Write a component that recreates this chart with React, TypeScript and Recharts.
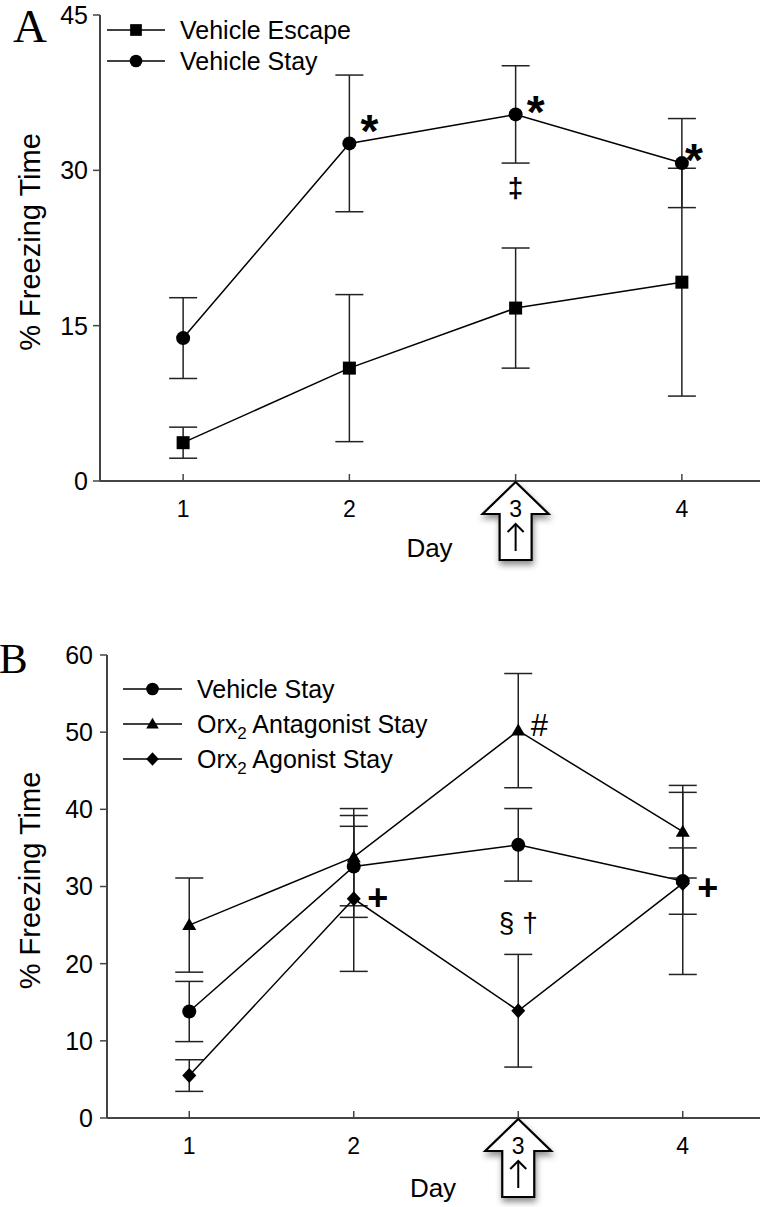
import React from 'react';
import { LineChart, Line, XAxis, YAxis, ErrorBar, Legend, LabelList } from 'recharts';

const FONT = '"Liberation Sans", Arial, sans-serif';
const SERIF = '"Liberation Serif", "Times New Roman", serif';

const days = [1, 2, 3, 4];

// Panel A
const escapeMeanA = [3.7, 10.9, 16.7, 19.2];
const escapeSemA = [1.5, 7.1, 5.8, 11.0];
const escapeNotesA = ['', '', '‡', ''];
const stayMean = [13.8, 32.6, 35.4, 30.7];
const staySem = [3.9, 6.6, 4.7, 4.3];
const stayNotesA = ['', '*', '*', '*'];
const yTicksA = [0, 15, 30, 45];

// Panel B
const antagMeanB = [25.0, 33.8, 50.2, 37.1];
const antagSemB = [6.1, 6.3, 7.4, 6.0];
const antagNotesB = ['', '', '#', ''];
const agonMeanB = [5.5, 28.4, 13.9, 30.4];
const agonSemB = [2.05, 9.4, 7.3, 11.8];
const agonNotesB = ['', '+', '§ †', '+'];
const yTicksB = [0, 10, 20, 30, 40, 50, 60];

const seriesA = [
  { key: 'escape', name: 'Vehicle Escape', shape: 'square' },
  { key: 'stay', name: 'Vehicle Stay', shape: 'circle' },
];
const seriesB = [
  { key: 'stay', name: 'Vehicle Stay', shape: 'circle' },
  { key: 'antag', name: 'Orx₂ Antagonist Stay', shape: 'triangle' },
  { key: 'agon', name: 'Orx₂ Agonist Stay', shape: 'diamond' },
];

// where each annotation sits relative to its point (dx to centre, dy to baseline)
const stayNoteOffsetA = [[0, 0], [20, 4], [20, 14], [12, 13]];
const escapeNoteOffsetA = [[0, 0], [0, 0], [0, -111], [0, 0]];
const antagNoteOffsetB = [[0, 0], [0, 0], [21, 5], [0, 0]];
const agonNoteOffsetB = [[0, 0], [24, 11], [0, -79], [25, 17]];

const NOTE_STYLE: Record<string, { fontSize: number; fontWeight: number }> = {
  '*': { fontSize: 46, fontWeight: 700 },
  '‡': { fontSize: 28, fontWeight: 700 },
  '#': { fontSize: 31, fontWeight: 400 },
  '+': { fontSize: 36, fontWeight: 700 },
  '§ †': { fontSize: 28, fontWeight: 400 },
};

const rowsA = days.map((day, i) => ({
  day,
  escape: escapeMeanA[i],
  escapeErr: escapeSemA[i],
  escapeNote: escapeNotesA[i],
  stay: stayMean[i],
  stayErr: staySem[i],
  stayNote: stayNotesA[i],
}));

const rowsB = days.map((day, i) => ({
  day,
  stay: stayMean[i],
  stayErr: staySem[i],
  antag: antagMeanB[i],
  antagErr: antagSemB[i],
  antagNote: antagNotesB[i],
  agon: agonMeanB[i],
  agonErr: agonSemB[i],
  agonNote: agonNotesB[i],
}));

function Marker({ shape, cx, cy, s = 1 }: { shape: string; cx: number; cy: number; s?: number }) {
  if (cx == null || cy == null) return null;
  if (shape === 'square') return <rect x={cx - 6.5 * s} y={cy - 6.5 * s} width={13 * s} height={13 * s} fill="#000" />;
  if (shape === 'circle') return <circle cx={cx} cy={cy} r={7 * s} fill="#000" />;
  if (shape === 'triangle')
    return <polygon points={`${cx},${cy - 7 * s} ${cx - 7 * s},${cy + 5 * s} ${cx + 7 * s},${cy + 5 * s}`} fill="#000" />;
  return <polygon points={`${cx},${cy - 7.5 * s} ${cx + 7 * s},${cy} ${cx},${cy + 7.5 * s} ${cx - 7 * s},${cy}`} fill="#000" />;
}

const dotOf = (shape: string) => (p: any) => <Marker key={`${shape}-${p.index}`} shape={shape} cx={p.cx} cy={p.cy} />;

const noteOf = (offsets: number[][]) => (props: any) => {
  const { value, index } = props;
  if (!value) return null;
  const x = props.x ?? props.viewBox?.x;
  const y = props.y ?? props.viewBox?.y;
  const [dx, dy] = offsets[index] || [0, 0];
  const st = NOTE_STYLE[value] || { fontSize: 24, fontWeight: 400 };
  return (
    <text key={`note-${index}`} x={x + dx} y={y + dy} textAnchor="middle" fontFamily={FONT} fontSize={st.fontSize} fontWeight={st.fontWeight} fill="#000">
      {value}
    </text>
  );
};

function LabelText({ name }: { name: string }) {
  const parts = name.split('₂');
  if (parts.length === 1) return <>{name}</>;
  return (
    <>
      {parts[0]}
      <tspan fontSize={17} dy={6}>2</tspan>
      <tspan dy={-6}>{parts[1]}</tspan>
    </>
  );
}

const legendOf = (series: typeof seriesA, lx: number[], rows: number[], textX: number) => () => (
  <svg width={450} height={rows[rows.length - 1] + 20} style={{ display: 'block', overflow: 'visible' }}>
    {series.map((s, i) => (
      <g key={s.key}>
        <line x1={lx[0]} x2={lx[1]} y1={rows[i]} y2={rows[i]} stroke="#000" strokeWidth={1.5} />
        <Marker shape={s.shape} cx={(lx[0] + lx[1]) / 2} cy={rows[i]} s={0.9} />
        <text x={textX} y={rows[i] + 9} fontFamily={FONT} fontSize={25} fill="#000">
          <LabelText name={s.name} />
        </text>
      </g>
    ))}
  </svg>
);

const dayTick = (shadowId: string) => (props: any) => {
  const { x, y, payload } = props;
  const v = payload?.value;
  return (
    <g key={`t-${v}`}>
      <line x1={x} x2={x} y1={y} y2={y - 7} stroke="#444" strokeWidth={1.5} />
      {v === 3 && (
        <g>
          <defs>
            <filter id={shadowId} x="-40%" y="-30%" width="180%" height="170%">
              <feDropShadow dx={1} dy={4} stdDeviation={3} floodColor="#000" floodOpacity={0.45} />
            </filter>
          </defs>
          <polygon
            points={`${x},${y + 1} ${x + 33},${y + 33} ${x + 16},${y + 33} ${x + 16},${y + 79} ${x - 16},${y + 79} ${x - 16},${y + 33} ${x - 33},${y + 33}`}
            fill="#fff"
            stroke="#000"
            strokeWidth={2.2}
            filter={`url(#${shadowId})`}
          />
          <line x1={x} x2={x} y1={y + 70} y2={y + 43} stroke="#000" strokeWidth={2} />
          <polyline points={`${x - 8},${y + 51} ${x},${y + 43} ${x + 8},${y + 51}`} fill="none" stroke="#000" strokeWidth={2} />
        </g>
      )}
      <text x={x} y={y + 36} textAnchor="middle" fontFamily={FONT} fontSize={23} fill="#000">
        {v}
      </text>
    </g>
  );
};

const dayLabel = (dy: number) => (props: any) => {
  const vb = props.viewBox || {};
  return (
    <text x={vb.x + vb.width / 2 - 3} y={vb.y + dy} textAnchor="middle" fontFamily={FONT} fontSize={26} fill="#000">
      Day
    </text>
  );
};

const yLabel = (props: any) => {
  const vb = props.viewBox || {};
  const tx = 39.5;
  const ty = vb.y + vb.height / 2 - 6;
  return (
    <text x={tx} y={ty} transform={`rotate(-90 ${tx} ${ty})`} textAnchor="middle" fontFamily={FONT} fontSize={29} fill="#000">
      % Freezing Time
    </text>
  );
};

const axisLine = { stroke: '#444', strokeWidth: 2 };
const lineProps = { stroke: '#000', strokeWidth: 1.5, isAnimationActive: false, activeDot: false as const };
const errProps = { width: 14, stroke: '#222', strokeWidth: 1.5, direction: 'y' as const, isAnimationActive: false };

export default function App() {
  return (
    <div style={{ position: 'relative', width: 760, height: 1207, overflow: 'hidden', background: '#fff' }}>
      <style>{'body{margin:0}'}</style>

      <div style={{ position: 'absolute', left: 0, top: 0 }}>
        <LineChart width={770} height={600} data={rowsA} margin={{ top: 15, right: 5, bottom: 19, left: 0 }}>
          <XAxis
            dataKey="day"
            type="number"
            domain={[0.5, 4.5]}
            ticks={days}
            interval={0}
            allowDataOverflow
            height={100}
            tickSize={0}
            tickMargin={0}
            tickLine={false}
            axisLine={axisLine}
            tick={dayTick('shadowA')}
            label={{ content: dayLabel(76) }}
          />
          <YAxis
            type="number"
            domain={[0, 45]}
            ticks={yTicksA}
            interval={0}
            allowDataOverflow
            width={100}
            tickSize={7}
            tickMargin={5}
            axisLine={axisLine}
            tickLine={{ stroke: '#444', strokeWidth: 1.5 }}
            tick={{ fill: '#000', fontSize: 25, fontFamily: FONT }}
            label={{ content: yLabel }}
          />
          <Legend
            layout="vertical"
            align="center"
            verticalAlign="middle"
            wrapperStyle={{ left: 0, top: 0, width: 450, height: 80 }}
            content={legendOf(seriesA, [107, 165], [30, 61], 180)}
          />
          <Line dataKey="escape" name="Vehicle Escape" {...lineProps} dot={dotOf('square')}>
            <ErrorBar dataKey="escapeErr" {...errProps} />
            <LabelList dataKey="escapeNote" content={noteOf(escapeNoteOffsetA)} />
          </Line>
          <Line dataKey="stay" name="Vehicle Stay" {...lineProps} dot={dotOf('circle')}>
            <ErrorBar dataKey="stayErr" {...errProps} />
            <LabelList dataKey="stayNote" content={noteOf(stayNoteOffsetA)} />
          </Line>
        </LineChart>
      </div>

      <div style={{ position: 'absolute', left: 0, top: 580 }}>
        <LineChart width={770} height={627} data={rowsB} margin={{ top: 75, right: 5, bottom: 4, left: 0 }}>
          <XAxis
            dataKey="day"
            type="number"
            domain={[0.5, 4.5]}
            ticks={days}
            interval={0}
            allowDataOverflow
            height={85}
            tickSize={0}
            tickMargin={0}
            tickLine={false}
            axisLine={axisLine}
            tick={dayTick('shadowB')}
            label={{ content: dayLabel(79) }}
          />
          <YAxis
            type="number"
            domain={[0, 60]}
            ticks={yTicksB}
            interval={0}
            allowDataOverflow
            width={107}
            tickSize={7}
            tickMargin={7}
            axisLine={axisLine}
            tickLine={{ stroke: '#444', strokeWidth: 1.5 }}
            tick={{ fill: '#000', fontSize: 25, fontFamily: FONT }}
            label={{ content: yLabel }}
          />
          <Legend
            layout="vertical"
            align="center"
            verticalAlign="middle"
            wrapperStyle={{ left: 0, top: 0, width: 450, height: 200 }}
            content={legendOf(seriesB, [123, 182], [109, 144, 179], 197)}
          />
          <Line dataKey="stay" name="Vehicle Stay" {...lineProps} dot={dotOf('circle')}>
            <ErrorBar dataKey="stayErr" {...errProps} />
          </Line>
          <Line dataKey="antag" name="Orx₂ Antagonist Stay" {...lineProps} dot={dotOf('triangle')}>
            <ErrorBar dataKey="antagErr" {...errProps} />
            <LabelList dataKey="antagNote" content={noteOf(antagNoteOffsetB)} />
          </Line>
          <Line dataKey="agon" name="Orx₂ Agonist Stay" {...lineProps} dot={dotOf('diamond')}>
            <ErrorBar dataKey="agonErr" {...errProps} />
            <LabelList dataKey="agonNote" content={noteOf(agonNoteOffsetB)} />
          </Line>
        </LineChart>
      </div>

      <svg width={760} height={1207} style={{ position: 'absolute', left: 0, top: 0, pointerEvents: 'none' }}>
        <text x={13} y={42} fontFamily={SERIF} fontSize={47} fill="#000">A</text>
        <text x={-1} y={673} fontFamily={SERIF} fontSize={43} fill="#000">B</text>
      </svg>
    </div>
  );
}
